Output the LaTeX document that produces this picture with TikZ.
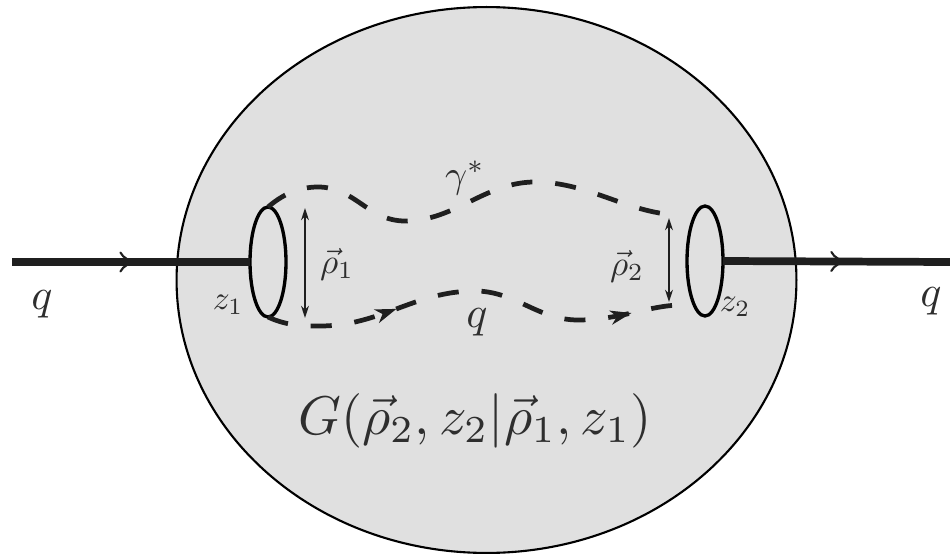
\documentclass[tikz,border=0pt]{standalone}
\usetikzlibrary{arrows.meta,shapes.geometric,decorations.markings}
\begin{document}
\begin{tikzpicture}[x=0.02cm,y=-0.02cm,
  blob/.style={ellipse,draw=black,line width=1.2pt,fill=black!12,inner sep=0pt,outer sep=0pt,minimum width=12.4cm,minimum height=10.92cm},
  loopnode/.style={ellipse,draw=black,line width=1.9pt,inner sep=0pt,outer sep=0pt,minimum width=0.72cm,minimum height=2.2cm},
  quark/.style={line width=4.4pt,draw=black!88},
  dashline/.style={line width=2.7pt,draw=black!88,dash pattern=on 12pt off 13pt},
  sizearrow/.style={line width=0.9pt,draw=black!88,{Stealth[length=7pt,width=4.5pt]}-{Stealth[length=7pt,width=4.5pt]}},
  headtip/.style={},
  lab/.style={text=black!82,inner sep=0pt,font=\fontsize{10}{12}\selectfont}
]
\useasboundingbox (0,0) rectangle (950,554);
% blob
\node[blob] (B) at (486.5,280) {};
% loops
\node[loopnode] (L1) at (268,262) {};
\node[loopnode] (L2) at (705,261) {};
% external quark lines
\coordinate (qin) at (12,262);
\coordinate (qout) at (950,262);
\draw[quark,postaction={decorate},decoration={markings,mark=at position 0.525 with {\arrow{To[length=10pt,width=12pt,line width=1.2pt]}}}] (qin) -- (L1.west);
\draw[quark,postaction={decorate},decoration={markings,mark=at position 0.55 with {\arrow{To[length=10pt,width=12pt,line width=1.2pt]}}}] (L2.east) -- (qout);
% dashed lines
\coordinate (te) at (682,215);
\coordinate (be) at (682,305);
\draw[dashline] (L1.north) .. controls (282,195) and (298,187) .. (318,187)
  .. controls (355,187) and (368,221) .. (405,221)
  .. controls (455,221) and (485,182) .. (535,182)
  .. controls (590,182) and (630,215) .. (te);
\draw[dashline,postaction={decorate},decoration={markings,
    mark=at position 0.31 with {\arrow{Stealth[length=12pt,width=8pt,inset=3.5pt]}},
    mark=at position 0.88 with {\arrow{Stealth[length=12pt,width=8pt,inset=3.5pt]}}}]
  (L1.south) .. controls (285,325) and (300,326) .. (320,326)
  .. controls (380,326) and (415,291) .. (475,291)
  .. controls (515,291) and (538,320) .. (578,320)
  .. controls (620,320) and (650,305) .. (be);
% size arrows
\coordinate (r1a) at (305,208);
\coordinate (r1b) at (305,318);
\coordinate (r2a) at (669,218);
\coordinate (r2b) at (669,302);
\draw[sizearrow] (r1a) -- (r1b);
\draw[sizearrow] (r2a) -- (r2b);
% labels
\node[lab,scale=2.5] (lq) at (42,304) {$q$};
\node[lab,scale=2.5] (rq) at (931,301) {$q$};
\node[lab,scale=2.5] (mq) at (477,322) {$q$};
\node[lab,scale=2.2] (gam) at (465,178) {$\gamma^*$};
\node[lab,scale=2.0] (rho1) at (337,264) {$\vec\rho_1$};
\node[lab,scale=2.0] (rho2) at (627,266) {$\vec\rho_2$};
\node[lab,scale=1.9] (z1) at (228,305) {$z_1$};
\node[lab,scale=1.9] (z2) at (735,307) {$z_2$};
\node[lab,scale=3.1] (G) at (475,421) {$G(\vec\rho_2, z_2|\vec\rho_1, z_1)$};
\end{tikzpicture}
\end{document}
